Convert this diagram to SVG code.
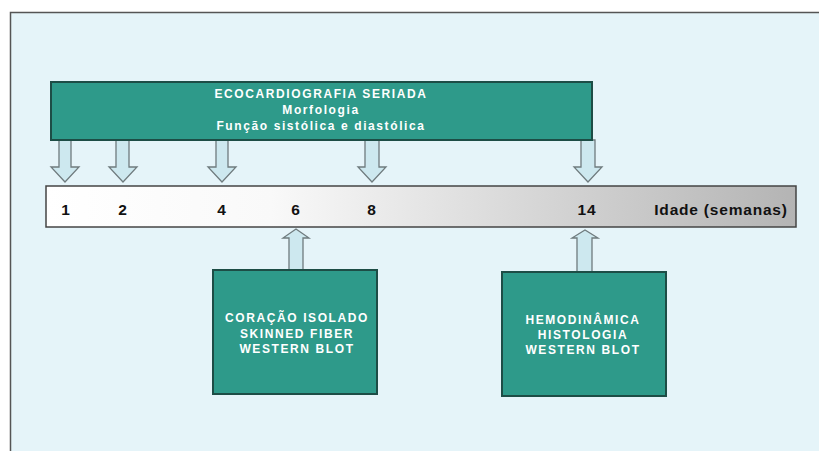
<svg xmlns="http://www.w3.org/2000/svg" width="819" height="451" viewBox="0 0 819 451">
<defs>
<linearGradient id="bar" x1="0" y1="0" x2="1" y2="0">
<stop offset="0" stop-color="#ffffff"/>
<stop offset="0.3" stop-color="#f9f9f9"/>
<stop offset="1" stop-color="#b4b4b4"/>
</linearGradient>
<style>
.box{fill:#2e9a8a;stroke:#1d4d46;stroke-width:2}
.arr{fill:#cde8ef;stroke:#6f7b7e;stroke-width:1.3}
.bt{font-family:"Liberation Sans",Arial,sans-serif;font-weight:bold;font-size:12px;fill:#ffffff;text-anchor:middle;letter-spacing:1.6px}
.num{font-family:"Liberation Sans",Arial,sans-serif;font-weight:bold;font-size:15.5px;fill:#111;text-anchor:middle;letter-spacing:0.8px}
</style>
</defs>
<rect x="0" y="0" width="819" height="451" fill="#ffffff"/>
<rect x="10.5" y="12.5" width="812" height="442" fill="#e5f4f9" stroke="#555" stroke-width="1.5"/>
<g id="connectors">
<path class="arr" d="M59,140 V167 H51 L65,182 L79,167 H71 V140 Z"/>
<path class="arr" d="M116,140 V167 H109 L123,182 L137,167 H129 V140 Z"/>
<path class="arr" d="M216,140 V167 H208 L222,182 L236,167 H228 V140 Z"/>
<path class="arr" d="M365,140 V167 H358 L372,182 L386,167 H379 V140 Z"/>
<path class="arr" d="M581,140 V167 H574 L588,182 L602,167 H595 V140 Z"/>
<path class="arr" d="M289,270 V238 H283 L296,229 L309,238 H303 V270 Z"/>
<path class="arr" d="M577,272 V238 H572 L585,230 L598,238 H592 V272 Z"/>
</g>
<g id="eco">
<rect class="box" x="51" y="82" width="541" height="58"/>
<text class="bt" x="321" y="98" letter-spacing="2.1">ECOCARDIOGRAFIA SERIADA</text>
<text class="bt" x="321" y="114" letter-spacing="1.3">Morfologia</text>
<text class="bt" x="321" y="130" letter-spacing="1.25">Função sistólica e diastólica</text>
</g>
<g id="timeline">
<rect x="46" y="186" width="750" height="41" fill="url(#bar)" stroke="#444" stroke-width="1.5"/>
<text class="num" x="66" y="215">1</text>
<text class="num" x="123" y="215">2</text>
<text class="num" x="222" y="215">4</text>
<text class="num" x="296" y="215">6</text>
<text class="num" x="372" y="215">8</text>
<text class="num" x="587" y="215">14</text>
<text class="num" x="721" y="215">Idade (semanas)</text>
</g>
<g id="coracao">
<rect class="box" x="213" y="270" width="164" height="124"/>
<text class="bt" x="297" y="322">CORAÇÃO ISOLADO</text>
<text class="bt" x="297" y="338">SKINNED FIBER</text>
<text class="bt" x="297" y="353">WESTERN BLOT</text>
</g>
<g id="hemo">
<rect class="box" x="502" y="272" width="164" height="124"/>
<text class="bt" x="583" y="324">HEMODINÂMICA</text>
<text class="bt" x="583" y="339">HISTOLOGIA</text>
<text class="bt" x="583" y="354">WESTERN BLOT</text>
</g>
</svg>
